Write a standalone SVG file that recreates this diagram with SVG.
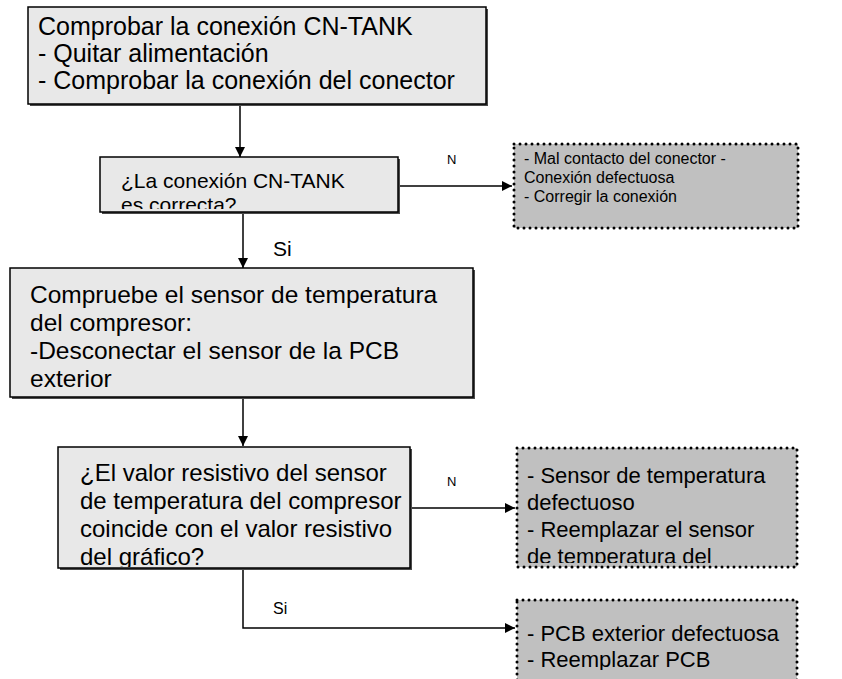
<svg xmlns="http://www.w3.org/2000/svg" width="842" height="679" viewBox="0 0 842 679">
  <defs>
    <style>
      .shadow { fill: #4a4a4a; }
      .box { fill: #e8e8e8; stroke: #000; stroke-width: 1.5; }
      .note { fill: #c0c0c0; stroke: #000; stroke-width: 3; stroke-dasharray: 0 6; stroke-linecap: round; }
      .t { font-family: "Liberation Sans", Arial, sans-serif; fill: #000; }
      .h1 { font-size: 25px; }
      .big { font-size: 24.5px; }
      .q { font-size: 24px; }
      .mid { font-size: 21px; }
      .res { font-size: 22px; }
      .small { font-size: 16px; }
      .lbl { font-size: 13px; }
      .si { font-size: 16px; }
      .wire { stroke: #000; stroke-width: 1.5; fill: none; }
    </style>
    <marker id="arrow" viewBox="0 0 10 10" refX="10" refY="5" markerWidth="10" markerHeight="10" markerUnits="userSpaceOnUse" orient="auto">
      <path d="M0,0 L10,5 L0,10 Z" fill="#000"/>
    </marker>
    <clipPath id="clipQ1"><rect x="101" y="157" width="298" height="52"/></clipPath>
    <clipPath id="clipQ2"><rect x="59" y="448" width="352" height="119"/></clipPath>
    <clipPath id="clipR2"><rect x="517" y="448" width="280" height="115"/></clipPath>
    <clipPath id="clipR3"><rect x="517" y="600" width="280" height="70"/></clipPath>
  </defs>

  <!-- connectors -->
  <g id="connectors">
    <line class="wire" x1="240" y1="105" x2="240" y2="157" marker-end="url(#arrow)"/>
    <line class="wire" x1="400" y1="186" x2="512" y2="186" marker-end="url(#arrow)"/>
    <line class="wire" x1="243" y1="213" x2="243" y2="268" marker-end="url(#arrow)"/>
    <line class="wire" x1="243" y1="398" x2="243" y2="446" marker-end="url(#arrow)"/>
    <line class="wire" x1="412" y1="508" x2="515" y2="508" marker-end="url(#arrow)"/>
    <polyline class="wire" points="243,568 243,628 515,628" marker-end="url(#arrow)"/>
    <text class="t lbl" x="447" y="164">N</text>
    <text class="t mid" x="273" y="256">Si</text>
    <text class="t lbl" x="447" y="486">N</text>
    <text class="t si" x="273" y="614">Si</text>
  </g>

  <!-- step: check CN-TANK connection -->
  <g id="check-connection">
    <rect class="shadow" x="30" y="9" width="458" height="97"/>
    <rect class="box" x="28" y="7" width="458" height="97"/>
    <text class="t h1" x="38" y="35">Comprobar la conexión CN-TANK</text>
    <text class="t h1" x="38" y="62">- Quitar alimentación</text>
    <text class="t h1" x="38" y="89">- Comprobar la conexión del conector</text>
  </g>

  <!-- decision: connection correct? -->
  <g id="connection-ok">
    <rect class="shadow" x="102" y="159" width="298" height="55"/>
    <rect class="box" x="100" y="157" width="298" height="55"/>
    <g clip-path="url(#clipQ1)">
      <text class="t mid" x="121" y="188">¿La conexión CN-TANK</text>
      <text class="t mid" x="121" y="212">es correcta?</text>
    </g>
  </g>

  <!-- result: bad connector contact -->
  <g id="bad-contact">
    <rect class="note" x="514" y="144" width="284" height="84"/>
    <text class="t small" x="524" y="164">- Mal contacto del conector -</text>
    <text class="t small" x="524" y="183">Conexión defectuosa</text>
    <text class="t small" x="524" y="202">- Corregir la conexión</text>
  </g>

  <!-- step: check compressor temperature sensor -->
  <g id="check-sensor">
    <rect class="shadow" x="12" y="270" width="463" height="129"/>
    <rect class="box" x="10" y="268" width="463" height="129"/>
    <text class="t big" x="30" y="303">Compruebe el sensor de temperatura</text>
    <text class="t big" x="30" y="331">del compresor:</text>
    <text class="t big" x="30" y="359">-Desconectar el sensor de la PCB</text>
    <text class="t big" x="30" y="387">exterior</text>
  </g>

  <!-- decision: resistance matches chart? -->
  <g id="resistance-ok">
    <rect class="shadow" x="60" y="449" width="352" height="121"/>
    <rect class="box" x="58" y="447" width="352" height="121"/>
    <g clip-path="url(#clipQ2)">
      <text class="t q" x="80" y="481">¿El valor resistivo del sensor</text>
      <text class="t q" x="80" y="509">de temperatura del compresor</text>
      <text class="t q" x="80" y="537">coincide con el valor resistivo</text>
      <text class="t q" x="80" y="565">del gráfico?</text>
    </g>
  </g>

  <!-- result: faulty temperature sensor -->
  <g id="bad-sensor">
    <rect class="note" x="517" y="448" width="280" height="119"/>
    <g clip-path="url(#clipR2)">
      <text class="t res" x="527" y="483">- Sensor de temperatura</text>
      <text class="t res" x="527" y="510">defectuoso</text>
      <text class="t res" x="527" y="537">- Reemplazar el sensor</text>
      <text class="t res" x="527" y="564">de temperatura del</text>
    </g>
  </g>

  <!-- result: faulty outdoor PCB -->
  <g id="bad-pcb">
    <rect class="note" x="517" y="600" width="280" height="90"/>
    <g clip-path="url(#clipR3)">
      <text class="t res" x="527" y="641">- PCB exterior defectuosa</text>
      <text class="t res" x="527" y="667">- Reemplazar PCB</text>
    </g>
  </g>
</svg>
